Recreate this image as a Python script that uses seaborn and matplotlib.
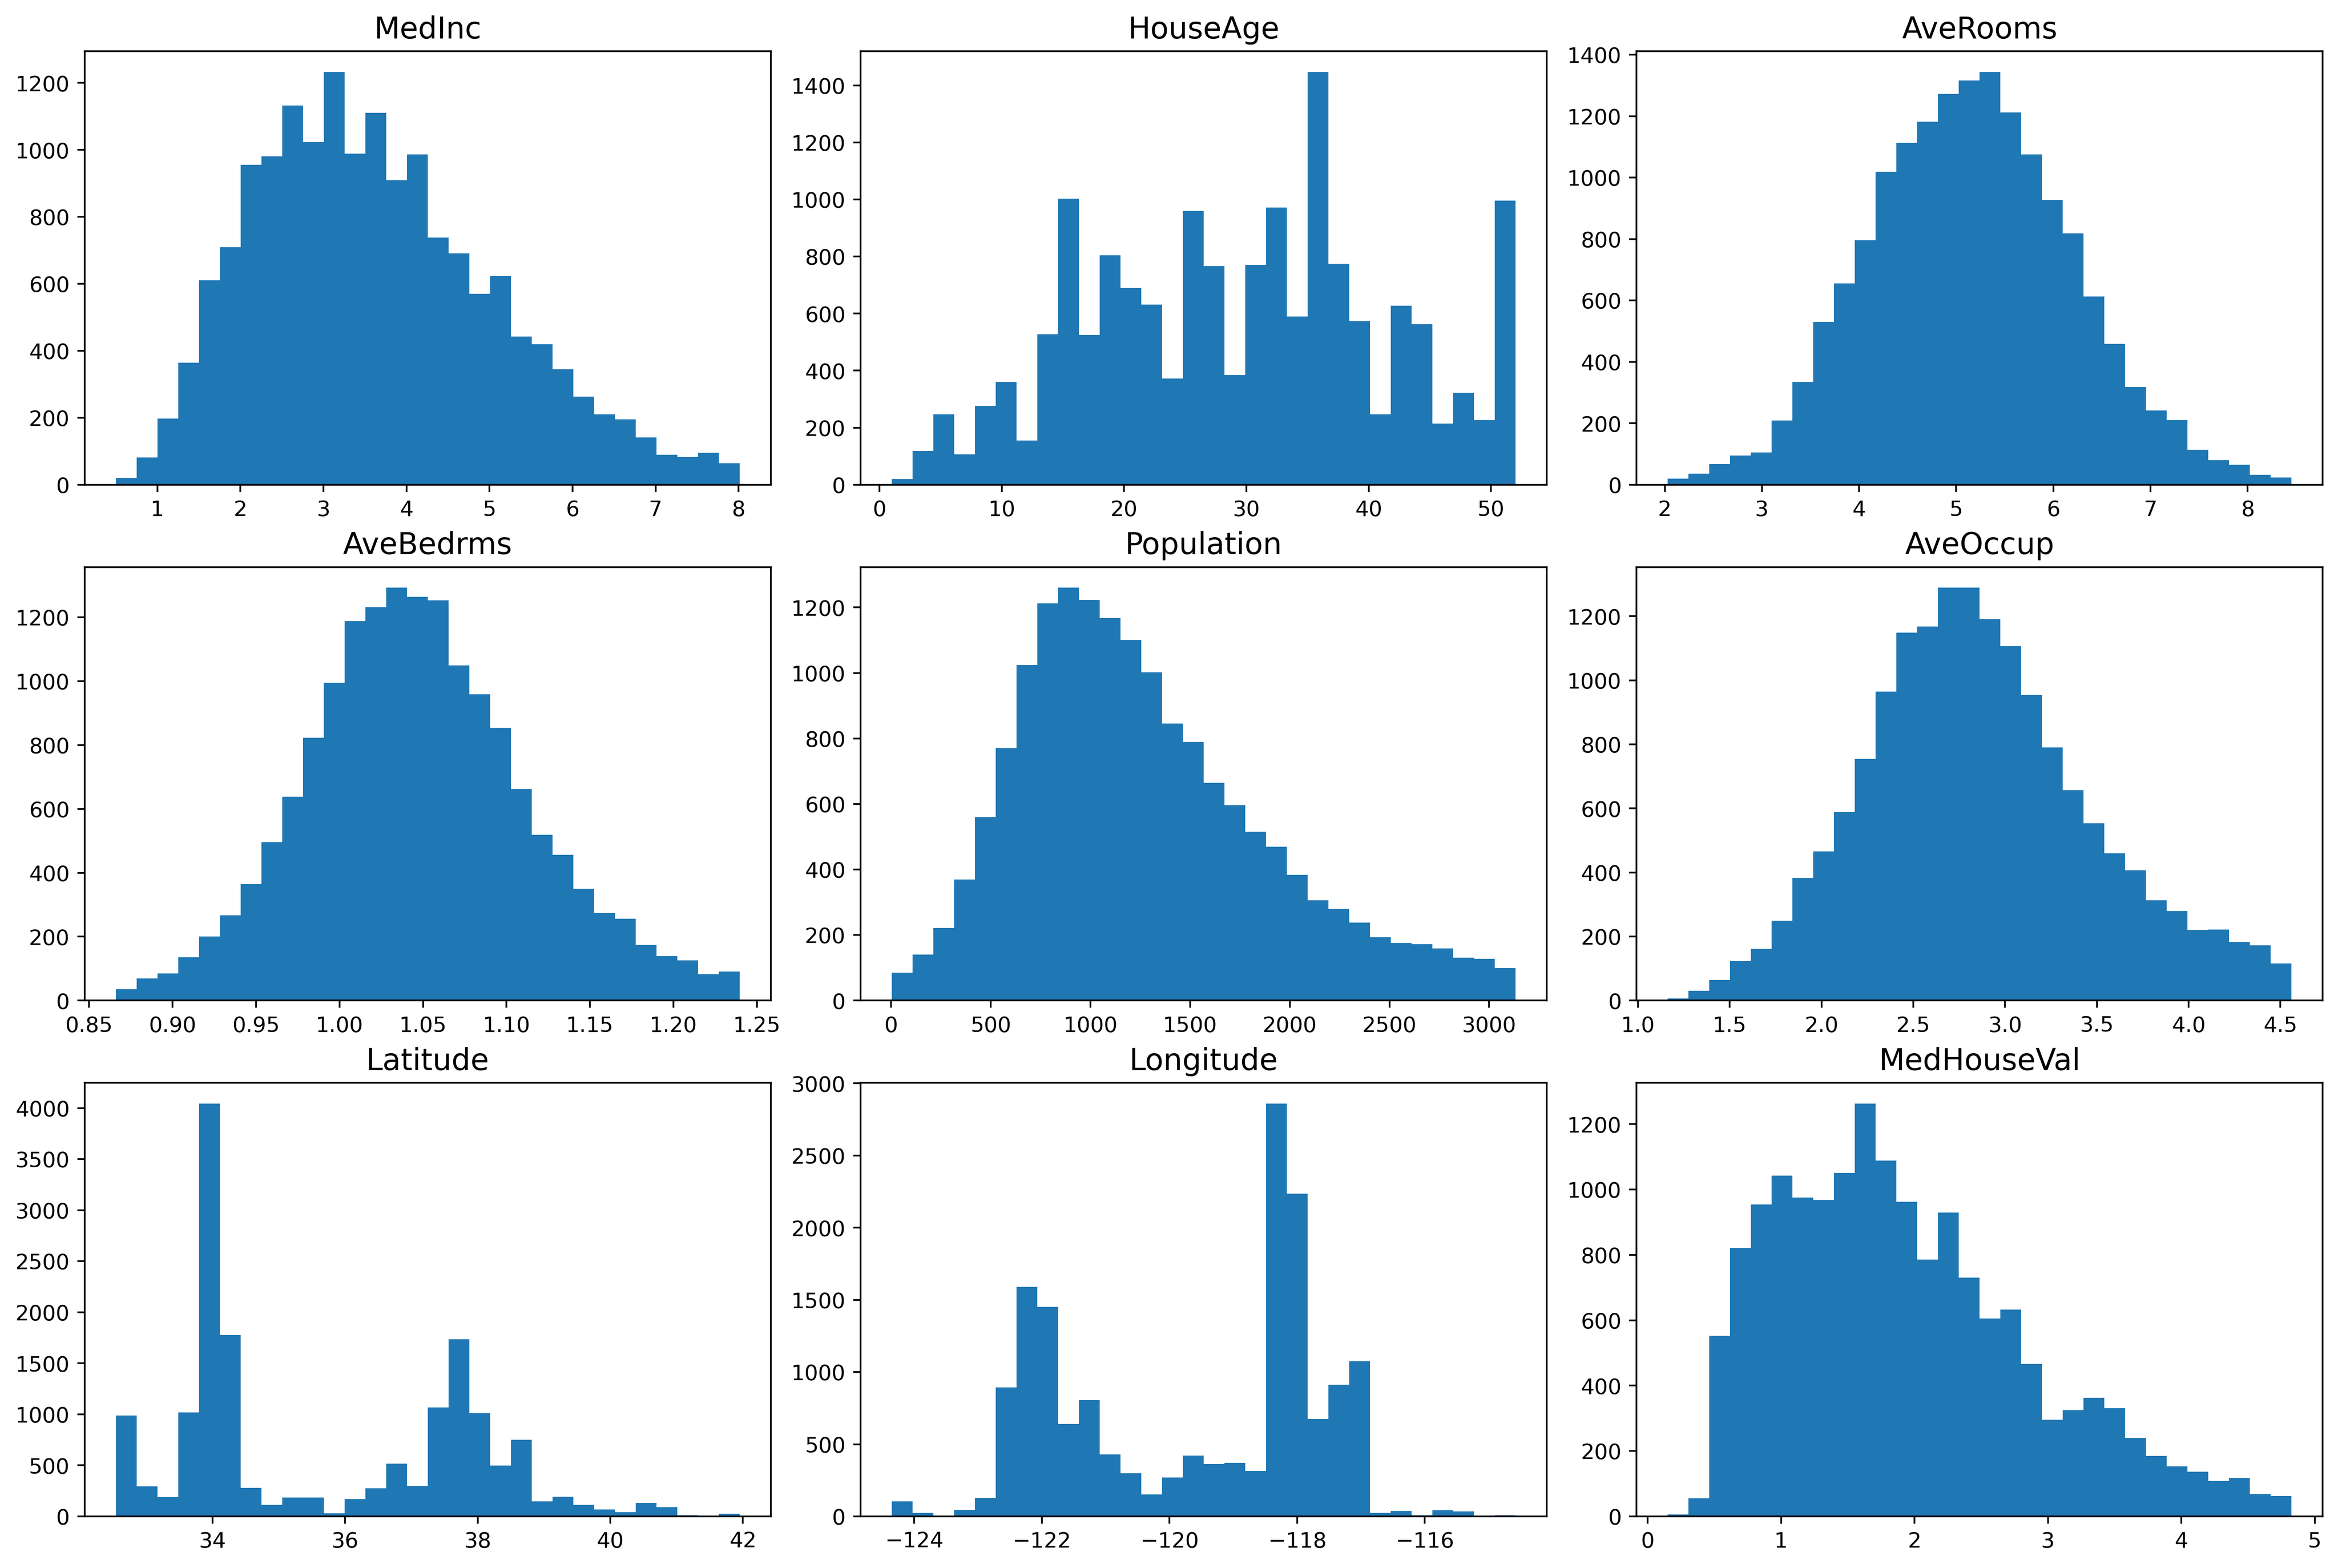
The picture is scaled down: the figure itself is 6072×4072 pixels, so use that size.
import numpy as np
import matplotlib
matplotlib.use("Agg")
import matplotlib.pyplot as plt
import seaborn as sns

# -----------------------------------
# Histogram data (30 bins per feature)
# -----------------------------------
features = ["MedInc", "HouseAge", "AveRooms",
            "AveBedrms", "Population", "AveOccup",
            "Latitude", "Longitude", "MedHouseVal"]

# bin range (min, max) for each feature
medinc_range = (0.4999, 8.011)
houseage_range = (1.0, 52.0)
averooms_range = (2.03, 8.45)
avebedrms_range = (0.866, 1.2396)
population_range = (3.0, 3132.0)
aveoccup_range = (1.1615, 4.56)
latitude_range = (32.54, 41.95)
longitude_range = (-124.35, -114.58)
medhouseval_range = (0.14999, 4.8245)

medinc_counts = [20, 81, 198, 364, 610, 709, 955, 981, 1133, 1023,
                 1233, 989, 1111, 910, 987, 738, 691, 570, 623, 443,
                 420, 345, 263, 210, 195, 141, 90, 83, 95, 64]
houseage_counts = [20, 119, 247, 106, 277, 360, 155, 527, 1002, 525,
                   804, 690, 631, 372, 960, 766, 385, 770, 971, 590,
                   1447, 774, 574, 247, 627, 563, 214, 322, 226, 996]
averooms_counts = [20, 36, 68, 95, 105, 209, 334, 530, 656, 796,
                   1019, 1113, 1182, 1272, 1316, 1344, 1212, 1076, 928, 818,
                   613, 459, 318, 242, 210, 114, 80, 65, 33, 24]
avebedrms_counts = [35, 69, 85, 136, 201, 267, 364, 496, 638, 823,
                    995, 1187, 1231, 1292, 1264, 1253, 1049, 958, 854, 662,
                    519, 456, 350, 274, 256, 174, 139, 126, 83, 91]
population_counts = [85, 140, 221, 369, 560, 770, 1024, 1212, 1260, 1223,
                     1167, 1101, 1002, 845, 789, 665, 596, 515, 470, 384,
                     306, 280, 238, 193, 176, 172, 159, 131, 128, 99]
aveoccup_counts = [6, 31, 64, 123, 162, 250, 383, 466, 589, 754,
                   965, 1149, 1168, 1289, 1289, 1191, 1107, 954, 791, 657,
                   553, 460, 407, 313, 279, 220, 222, 183, 172, 116]
latitude_counts = [988, 295, 188, 1018, 4044, 1776, 281, 114, 184, 184,
                   30, 171, 275, 516, 298, 1069, 1735, 1012, 499, 750,
                   147, 191, 114, 67, 40, 131, 90, 10, 3, 27]
longitude_counts = [104, 24, 5, 45, 128, 894, 1589, 1452, 641, 806,
                    430, 298, 151, 270, 421, 362, 371, 314, 2860, 2236,
                    676, 913, 1076, 24, 38, 7, 43, 35, 2, 9]
medhouseval_counts = [6, 55, 552, 821, 954, 1043, 976, 968, 1051, 1263,
                      1089, 962, 786, 930, 731, 606, 633, 467, 296, 325,
                      363, 331, 240, 185, 153, 137, 109, 118, 68, 62]

ranges = [medinc_range, houseage_range, averooms_range,
          avebedrms_range, population_range, aveoccup_range,
          latitude_range, longitude_range, medhouseval_range]
counts = [medinc_counts, houseage_counts, averooms_counts,
          avebedrms_counts, population_counts, aveoccup_counts,
          latitude_counts, longitude_counts, medhouseval_counts]

n_bins = 30

# -----------------------------------
# Plot
# -----------------------------------
fig, axes = plt.subplots(3, 3, figsize=(15.18, 10.18))

for ax, name, rng, cnt in zip(axes.flat, features, ranges, counts):
    edges = np.linspace(rng[0], rng[1], n_bins + 1)
    centers = (edges[:-1] + edges[1:]) / 2
    sns.histplot(x=centers, weights=cnt, bins=n_bins, binrange=rng,
                 color="#1f77b4", alpha=1, linewidth=0, ax=ax)
    ax.set_title(name, fontsize=14)
    ax.set_xlabel("")
    ax.set_ylabel("")

plt.subplots_adjust(left=0.0362, right=0.9934, top=0.9673, bottom=0.0329,
                    wspace=0.131, hspace=0.19)
plt.savefig("out.png", dpi=400)
